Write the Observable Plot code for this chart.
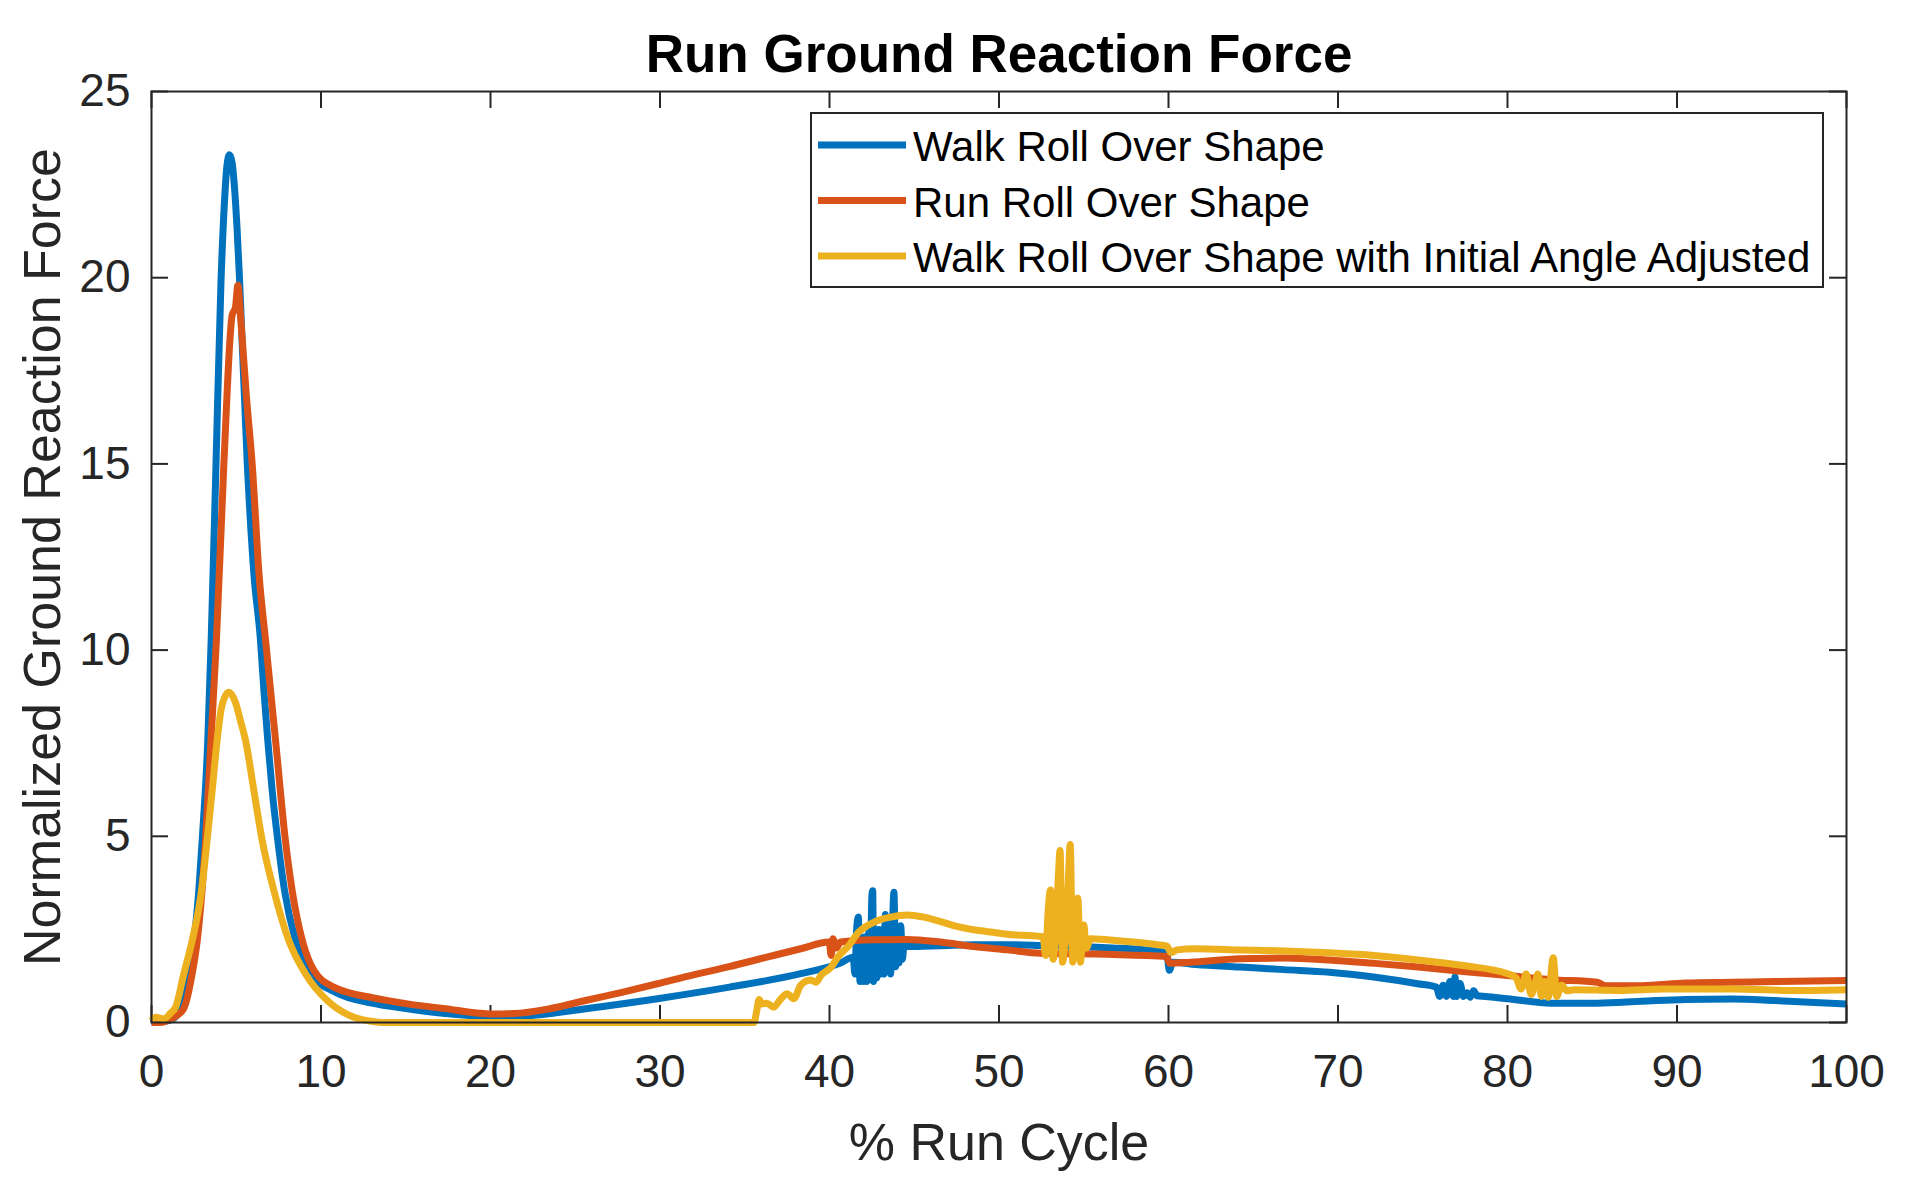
<!DOCTYPE html>
<html>
<head>
<meta charset="utf-8">
<script src="https://cdn.jsdelivr.net/npm/d3@7"></script>
<script src="https://cdn.jsdelivr.net/npm/@observablehq/plot@0.6"></script>
<style>
  html, body { margin: 0; padding: 0; background: #fff; }
  #chart svg { display: block; }
</style>
</head>
<body>
<div id="chart"></div>
<script>
// ---------- data ----------
const titleText = "Run Ground Reaction Force";
const xLabel = "% Run Cycle";
const yLabel = "Normalized Ground Reaction Force";
const seriesNames = [
  "Walk Roll Over Shape",
  "Run Roll Over Shape",
  "Walk Roll Over Shape with Initial Angle Adjusted"
];
const seriesColors = ["#0072BD", "#D95319", "#EDB120"];
const xTicks = [0, 10, 20, 30, 40, 50, 60, 70, 80, 90, 100];
const yTicks = [0, 5, 10, 15, 20, 25];

// [% run cycle, normalized force]
const walkData = [
  [0,0],[0.5,0.02],[1.0,0.05],[1.5,0.2],[1.71,0.37],[2.1,1.31],[2.5,2.2],[2.79,3.54],[2.99,4.89],
  [3.32,7.57],[3.52,10.26],[3.8,14.9],[4.1,19.9],[4.3,22.0],[4.45,23.0],[4.6,23.3],[4.75,23.1],
  [4.9,22.4],[5.05,21.3],[5.2,19.9],[5.65,15.0],[6.05,12.0],[6.43,10.26],[6.63,8.92],[6.86,7.57],
  [7.12,6.23],[7.45,4.89],[7.85,3.54],[8.5,2.2],[9.38,1.31],[10.9,0.8],[13.0,0.52],[15.1,0.37],
  [17.2,0.25],[20.0,0.16],[22.4,0.19],
  [25.6,0.37],[29.85,0.64],[34.1,0.95],[38.3,1.31],[40.65,1.6],[41.4,1.75],
  [41.5,1.3],[41.6,2.5],[41.7,2.83],[41.8,1.1],[41.9,2.2],[42.0,1.1],[42.1,2.3],[42.2,1.1],
  [42.3,2.4],[42.4,1.15],[42.5,3.4],[42.55,3.54],[42.6,1.1],[42.7,2.4],[42.8,1.2],[42.9,2.5],
  [43.0,1.3],[43.1,2.5],[43.2,1.3],[43.3,2.9],[43.4,1.4],[43.5,2.5],[43.6,1.3],[43.7,2.4],
  [43.8,3.5],[43.9,1.5],[44.0,2.4],[44.1,1.6],[44.2,2.6],[44.3,1.7],[44.4,2.1],[44.6,2.04],
  [46.5,2.06],[48.5,2.09],[50.5,2.09],[52.45,2.07],[56.4,2.01],[59.3,1.92],[59.9,1.85],
  [60.05,1.4],[60.25,1.62],[61.6,1.56],[64.2,1.49],[66.8,1.42],[69.5,1.35],[72.1,1.22],
  [74.7,1.04],[75.8,0.95],[76.0,0.7],[76.2,1.0],[76.4,0.7],[76.6,1.1],[76.8,0.7],[76.9,1.22],
  [77.0,0.7],[77.2,1.05],[77.4,0.7],[77.6,0.8],[77.8,0.68],[78.0,0.85],[78.2,0.72],[78.7,0.7],
  [80.0,0.64],[82.6,0.52],[85.3,0.52],[87.9,0.57],[90.5,0.62],[93.2,0.63],[95.8,0.59],[100,0.5]
];

const runData = [
  [0,0],[0.5,0],[0.92,0.05],[1.5,0.19],[1.9,0.37],[2.4,1.31],[2.7,2.2],[3.19,4.89],[3.5,7.5],
  [3.83,10.26],[4.27,15.0],[4.76,19.0],[4.95,19.2],[5.1,19.8],[5.25,19.0],[5.6,16.8],[5.94,15.0],
  [6.35,12.0],[6.73,10.26],[7.32,7.57],[7.9,4.89],[8.3,3.54],[8.9,2.2],[9.58,1.4],[10.76,0.95],
  [13.1,0.66],[15.1,0.5],[17.2,0.38],[19.96,0.23],[21.4,0.24],
  [23.5,0.37],[25.6,0.59],[27.75,0.81],[29.85,1.04],[31.97,1.28],[34.08,1.5],[36.18,1.74],
  [38.3,1.98],[39.98,2.16],[40.1,1.8],[40.2,2.25],[40.4,2.0],[40.65,2.16],[42.6,2.22],
  [44.58,2.23],[46.55,2.16],[48.5,2.04],[50.5,1.95],[52.45,1.86],[56.4,1.83],[59.9,1.77],
  [60.05,1.59],[61.3,1.62],[64.2,1.71],[66.84,1.73],[69.47,1.68],[72.1,1.59],[74.74,1.49],
  [77.38,1.37],[80.0,1.26],[82.6,1.15],[85.3,1.08],[85.8,0.99],[87.9,0.99],[90.5,1.06],
  [93.2,1.08],[95.8,1.1],[100,1.13]
];

const walkAdjData = [
  [0,0.05],[0.24,0.14],[0.73,0.1],[1.12,0.25],[1.42,0.41],[1.91,1.31],[2.4,2.2],[2.95,3.54],
  [3.28,4.89],[3.58,6.23],[3.87,7.57],[4.15,8.5],[4.56,8.87],[4.95,8.6],[5.25,8.1],[5.55,7.57],
  [6.04,6.23],[6.53,4.89],[7.22,3.54],[8.1,2.2],[9.08,1.31],[10.37,0.59],[11.94,0.14],[13.0,0.03],
  [13.6,0],
  [35.55,0],[35.7,0.3],[35.85,0.62],[36.0,0.5],[36.3,0.52],[36.7,0.41],[37.1,0.62],[37.5,0.77],
  [37.9,0.64],[38.3,1.0],[38.9,1.14],[39.2,1.08],[39.5,1.27],[40.1,1.49],[40.5,1.76],[41.2,2.1],
  [41.63,2.38],[42.6,2.69],[43.6,2.83],[44.58,2.89],[45.56,2.83],[46.55,2.71],[47.5,2.58],
  [48.5,2.49],[49.5,2.43],[50.5,2.37],[52.45,2.31],[52.6,2.3],[52.75,1.8],[52.9,3.0],[53.04,3.56],
  [53.2,1.7],[53.35,2.6],[53.5,3.9],[53.6,4.62],[53.75,1.62],[53.9,2.2],[54.05,3.3],[54.2,4.78],
  [54.35,1.62],[54.5,2.6],[54.65,3.34],[54.8,1.62],[55.0,2.62],[55.15,2.0],[55.4,2.25],
  [57.4,2.18],[59.33,2.09],[59.9,2.05],[60.15,1.88],[60.5,1.95],[61.57,1.98],[64.2,1.95],
  [66.84,1.92],[69.47,1.87],[72.1,1.8],[74.74,1.68],[77.38,1.53],[80.0,1.31],[80.5,1.2],
  [80.8,0.9],[81.1,1.3],[81.4,0.75],[81.6,1.0],[81.8,1.3],[82.0,0.7],[82.2,1.1],[82.4,0.68],
  [82.7,1.74],[82.9,0.7],[83.2,1.0],[83.5,0.85],[83.95,0.88],[86.6,0.86],[89.2,0.9],[93.2,0.9],
  [97.1,0.86],[100,0.88]
];

const allSeries = [walkData, runData, walkAdjData];

// ---------- layout ----------
const W = 1907, H = 1202;
const mL = 151, mR = 61, mT = 91, mB = 180;
const innerW = W - mL - mR, innerH = H - mT - mB;
const tickLen = 17;
const ink = "#262626";
const font = "'Liberation Sans', Arial, Helvetica, sans-serif";

const lineMarks = allSeries.map((pts, i) =>
  Plot.line(pts, {x: d => d[0], y: d => d[1], stroke: seriesColors[i], strokeWidth: 7,
                  curve: "monotone-x", strokeLinejoin: "round", strokeLinecap: "butt"})
);

const chart = Plot.plot({
  width: W, height: H,
  marginLeft: mL, marginRight: mR, marginTop: mT, marginBottom: mB,
  style: {fontFamily: font, background: "#fff", color: ink, overflow: "visible"},
  x: {domain: [0, 100]},
  y: {domain: [0, 25]},
  marks: [
    // tick labels
    Plot.axisX({ticks: xTicks, tickSize: 0, tickPadding: 32, fontSize: 46, label: null, fill: ink}),
    Plot.axisY({ticks: yTicks, tickSize: 0, tickPadding: 21, fontSize: 46, label: null, fill: ink}),
    // inward tick marks on all four sides (MATLAB box)
    Plot.tickX(xTicks, {x: d => d, insetTop: innerH - tickLen, stroke: ink, strokeWidth: 2}),
    Plot.tickX(xTicks, {x: d => d, insetBottom: innerH - tickLen, stroke: ink, strokeWidth: 2}),
    Plot.tickY(yTicks, {y: d => d, insetRight: innerW - tickLen, stroke: ink, strokeWidth: 2}),
    Plot.tickY(yTicks, {y: d => d, insetLeft: innerW - tickLen, stroke: ink, strokeWidth: 2}),
    ...lineMarks,
    Plot.frame({stroke: ink, strokeWidth: 2}),
    // title and axis labels
    Plot.text([titleText], {frameAnchor: "top", dy: -20, lineAnchor: "bottom", fontSize: 53,
                            fontWeight: "bold", fill: "#000", textAnchor: "middle"}),
    Plot.text([xLabel], {frameAnchor: "bottom", dy: 137, lineAnchor: "bottom", fontSize: 52,
                         fill: ink, textAnchor: "middle"}),
    Plot.text([yLabel], {frameAnchor: "left", dx: -92, rotate: -90, lineAnchor: "bottom",
                         fontSize: 52, fill: ink, textAnchor: "middle"})
  ]
});

document.getElementById("chart").appendChild(chart);

// ---------- legend (MATLAB style box, top right) ----------
const svg = d3.select(chart);
const lg = svg.append("g").attr("font-family", font).attr("text-anchor", "start");
const box = {x: 811, y: 113, w: 1012, h: 174};
lg.append("rect").attr("x", box.x).attr("y", box.y).attr("width", box.w).attr("height", box.h)
  .attr("fill", "#fff").attr("stroke", ink).attr("stroke-width", 2);
const rowY0 = 145, rowStep = 55.5;
seriesNames.forEach((name, i) => {
  const cy = rowY0 + i * rowStep;
  lg.append("line").attr("x1", 818).attr("x2", 906).attr("y1", cy).attr("y2", cy)
    .attr("stroke", seriesColors[i]).attr("stroke-width", 7);
  lg.append("text").attr("x", 913).attr("y", cy + 16).attr("font-size", 42)
    .attr("text-anchor", "start").attr("fill", "#000").text(name);
});
</script>
</body>
</html>
